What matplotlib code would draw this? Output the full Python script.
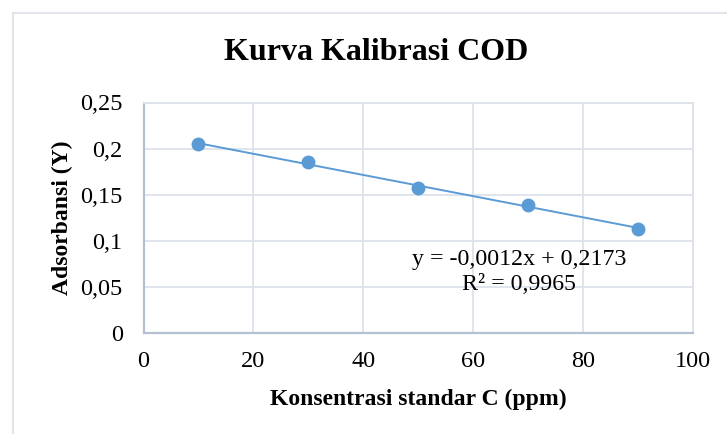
"""Kurva kalibrasi COD: scatter with linear trendline, Excel style."""

import matplotlib

matplotlib.use("Agg")
import matplotlib.pyplot as plt
import numpy as np
from matplotlib.patches import Rectangle
from matplotlib.ticker import FuncFormatter

conc_ppm = [10, 30, 50, 70, 90]
absorbance = [0.205, 0.185, 0.157, 0.139, 0.113]
x_ticks = [0, 20, 40, 60, 80, 100]
y_ticks = [0, 0.05, 0.1, 0.15, 0.2, 0.25]
title = "Kurva Kalibrasi COD"
x_label = "Konsentrasi standar C (ppm)"
y_label = "Adsorbansi (Y)"
eq_text = "y = -0,0012x + 0,2173\nR² = 0,9965"

W, H = 727, 434
BLUE = "#5B9BD5"
GRID = "#DDE2EA"
SPINE = "#B4C0D2"

plt.rcParams["font.family"] = ["Liberation Serif", "DejaVu Serif"]

fig = plt.figure(figsize=(W / 100, H / 100), dpi=100)
fig.patches.append(
    Rectangle((13 / W, -0.1), 1.2, 1 - 13 / H + 0.1, transform=fig.transFigure,
              fill=False, edgecolor="#E1E5EB", linewidth=1.5)
)
ax = fig.add_axes([143.5 / W, 1 - 332.7 / H, (693 - 143.5) / W, (332.7 - 102.5) / H])

x = np.array(conc_ppm)
y = np.array(absorbance)
slope, intercept = np.polyfit(x, y, 1)
ax.plot(x, slope * x + intercept, color=BLUE, linewidth=1.4, zorder=2)
ax.plot(x, y, "o", color=BLUE, markersize=10, markeredgewidth=0, zorder=3)

ax.set_xlim(0, 100)
ax.set_ylim(0, 0.25)
ax.set_xticks(x_ticks)
ax.set_yticks(y_ticks)
comma = FuncFormatter(lambda v, _: f"{v:g}".replace(".", ","))
ax.xaxis.set_major_formatter(comma)
ax.yaxis.set_major_formatter(comma)
ax.tick_params(length=0, labelsize=17.5, colors="black")
ax.tick_params(axis="x", pad=13)
ax.tick_params(axis="y", pad=15)
ax.grid(True, color=GRID, linewidth=1.3)
ax.set_axisbelow(True)
for side in ("top", "right"):
    ax.spines[side].set_color(GRID)
    ax.spines[side].set_linewidth(1.3)
for side in ("left", "bottom"):
    ax.spines[side].set_color(SPINE)
    ax.spines[side].set_linewidth(1.6)

ax.set_xlabel(x_label, fontsize=17, fontweight="bold", labelpad=12)
ax.set_ylabel(y_label, fontsize=17, fontweight="bold", labelpad=5)
fig.text(376 / W, 1 - 52 / H, title, fontsize=23, fontweight="bold",
         ha="center", va="center")
ax.text(519 / W, 1 - 271.5 / H, eq_text, transform=fig.transFigure, fontsize=17.2,
        ha="center", va="center", linespacing=1.25)

fig.savefig("out.png", dpi=100)
